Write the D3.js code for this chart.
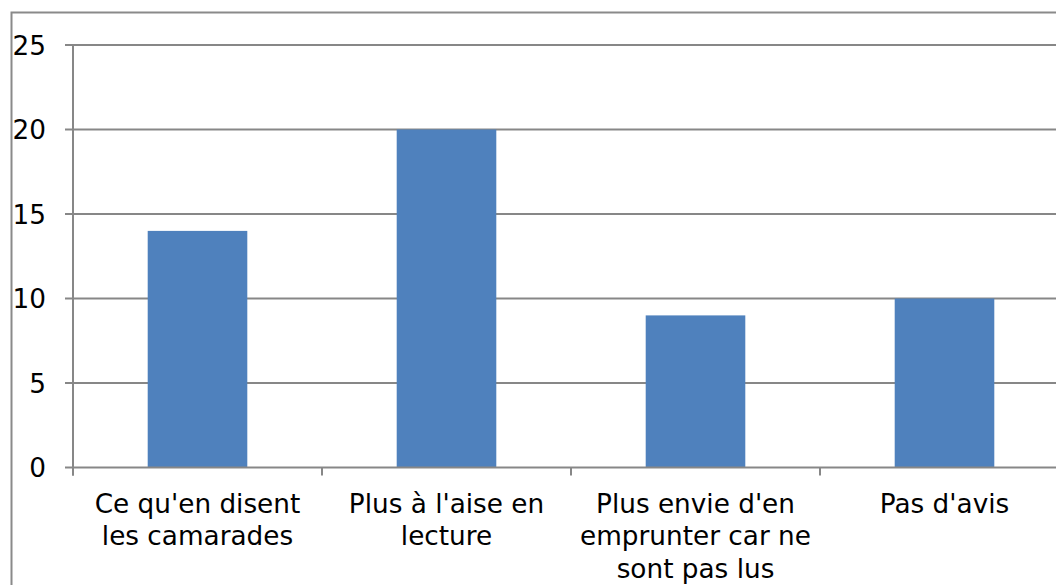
<!DOCTYPE html>
<html>
<head>
<meta charset="utf-8">
<script src="https://cdn.jsdelivr.net/npm/d3@7"></script>
<style>
  html, body { margin: 0; padding: 0; background: #fff; }
  svg { display: block; }
</style>
</head>
<body>
<svg id="chart" width="1056" height="585"></svg>
<script>
const categories = [
  ["Ce qu'en disent", "les camarades"],
  ["Plus à l'aise en", "lecture"],
  ["Plus envie d'en", "emprunter car ne", "sont pas lus"],
  ["Pas d'avis"]
];
const values = [14, 20, 9, 10];
const yTicks = [0, 5, 10, 15, 20, 25];

(function () {
const svg = d3.select("#chart");
const W = 1056;
const font = "DejaVu Sans, Verdana, sans-serif";
const grid = "#878787";
const fs = 26.3;

// outer chart border
svg.append("rect")
  .attr("x", 11.5).attr("y", 12.5)
  .attr("width", 1100).attr("height", 700)
  .attr("fill", "none").attr("stroke", "#8a8a8a").attr("stroke-width", 2);

const plotLeft = 73, plotTop = 45, plotBottom = 467.5;
const keys = categories.map((c, i) => i);
const x = d3.scaleBand().domain(keys).range([plotLeft, plotLeft + 4 * 249])
  .paddingInner(0.6).paddingOuter(0.3);
const y = d3.scaleLinear().domain([0, 25]).range([plotBottom, plotTop]);

// gridlines
svg.append("g").selectAll("line").data(yTicks.filter(d => d > 0)).join("line")
  .attr("x1", plotLeft - 8).attr("x2", W + 20)
  .attr("y1", d => y(d)).attr("y2", d => y(d))
  .attr("stroke", grid).attr("stroke-width", 2);

// bars
svg.append("g").selectAll("rect").data(values).join("rect")
  .attr("x", (d, i) => x(i))
  .attr("width", x.bandwidth())
  .attr("y", d => y(d))
  .attr("height", d => y(0) - y(d))
  .attr("fill", "#4f81bd");

// y axis line
svg.append("line")
  .attr("x1", plotLeft).attr("x2", plotLeft)
  .attr("y1", plotTop).attr("y2", plotBottom + 8)
  .attr("stroke", grid).attr("stroke-width", 2);
// x axis baseline
svg.append("line")
  .attr("x1", plotLeft - 8).attr("x2", W + 20)
  .attr("y1", y(0)).attr("y2", y(0))
  .attr("stroke", grid).attr("stroke-width", 2);

// category tick marks
svg.append("g").selectAll("line").data(d3.range(0, 5)).join("line")
  .attr("x1", i => plotLeft + i * x.step()).attr("x2", i => plotLeft + i * x.step())
  .attr("y1", y(0)).attr("y2", y(0) + 8)
  .attr("stroke", grid).attr("stroke-width", 2);

// y tick labels
svg.append("g").selectAll("text").data(yTicks).join("text")
  .attr("x", 46).attr("y", d => y(d) + 9.5)
  .attr("text-anchor", "end")
  .attr("font-family", font).attr("font-size", fs).attr("fill", "#000")
  .text(d => d);

// category labels
const cl = svg.append("g").selectAll("text").data(categories).join("text")
  .attr("text-anchor", "middle")
  .attr("font-family", font).attr("font-size", fs).attr("fill", "#000")
  .attr("transform", (d, i) => `translate(${x(i) + x.bandwidth() / 2},512.5)`);
cl.selectAll("tspan").data(d => d).join("tspan")
  .attr("x", 0).attr("y", (d, j) => j * 32.7)
  .text(d => d);
})();
</script>
</body>
</html>
